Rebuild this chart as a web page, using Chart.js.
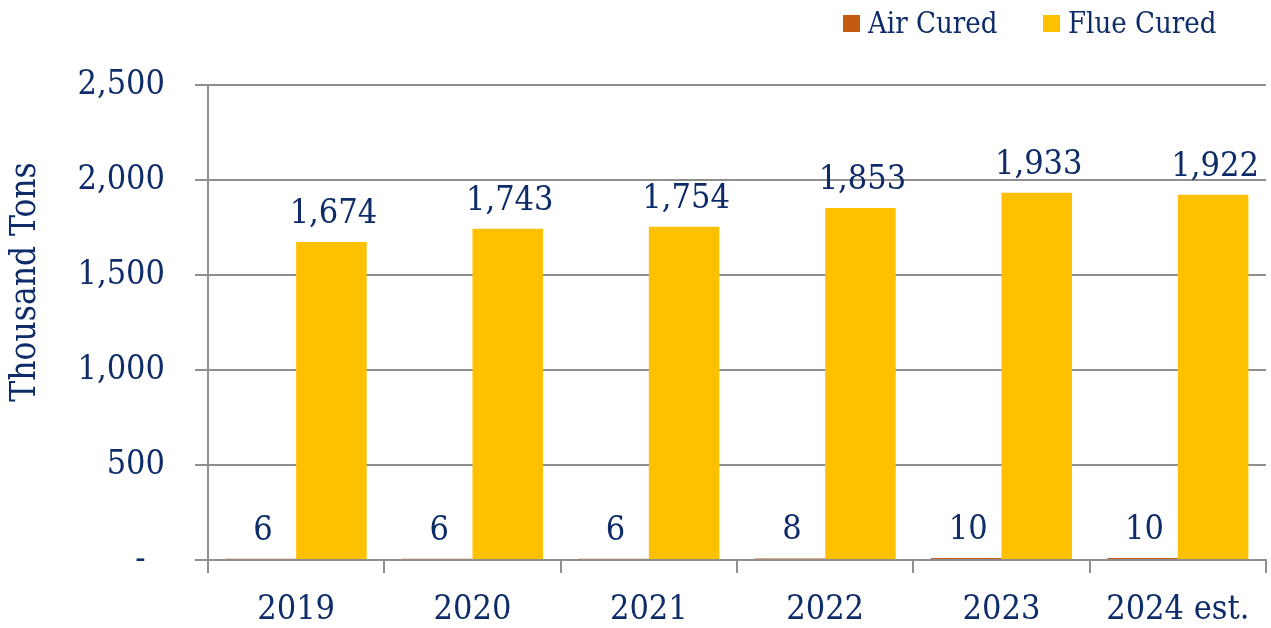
<!DOCTYPE html>
<html>
<head>
<meta charset="utf-8">
<script src="https://cdn.jsdelivr.net/npm/chart.js@4.4.1/dist/chart.umd.min.js"></script>
<style>
  html, body { margin: 0; padding: 0; background: #fff; }
  #wrap { position: relative; width: 1271px; height: 628px; }
</style>
</head>
<body>
<div id="wrap"><canvas id="tobaccoChart" width="1271" height="628"></canvas></div>
<script>
// chart data
const years = ["2019", "2020", "2021", "2022", "2023", "2024 est."];
const airCured = [6, 6, 6, 8, 10, 10];
const flueCured = [1674, 1743, 1754, 1853, 1933, 1922];
const yTicks = [0, 500, 1000, 1500, 2000, 2500];

const NAVY = "#0f2c6a";
const GRID = "#8f8f8f";
const FONT = "'DejaVu Serif Condensed', 'DejaVu Serif', serif";

// value labels over each bar
const barLabels = {
    id: "barLabels",
    afterDatasetsDraw(chart) {
        const ctx = chart.ctx;
        ctx.save();
        ctx.fillStyle = NAVY;
        ctx.font = "34px " + FONT;
        ctx.textAlign = "center";
        ctx.textBaseline = "alphabetic";
        chart.data.datasets.forEach((ds, i) => {
            chart.getDatasetMeta(i).data.forEach((bar, j) => {
                ctx.fillText(ds.data[j].toLocaleString("en-US"), bar.x + 2, bar.y - 19);
            });
        });
        ctx.restore();
    }
};

// axis title + legend drawn by hand so they sit where the original has them
const extras = {
    id: "extras",
    afterDraw(chart) {
        const ctx = chart.ctx;
        ctx.save();
        ctx.fillStyle = NAVY;
        ctx.font = "35px " + FONT;
        ctx.translate(26, 282);
        ctx.rotate(-Math.PI / 2);
        ctx.textAlign = "center";
        ctx.textBaseline = "middle";
        ctx.fillText("Thousand Tons", 0, 0);
        ctx.restore();

        ctx.save();
        ctx.font = "29px " + FONT;
        ctx.textBaseline = "middle";
        const legendX = [843, 1043];
        chart.data.datasets.forEach((ds, i) => {
            ctx.fillStyle = ds.backgroundColor;
            ctx.fillRect(legendX[i], 15, 17, 17);
            ctx.fillStyle = NAVY;
            ctx.fillText(ds.label, legendX[i] + 25, 25);
        });
        ctx.restore();
    }
};

new Chart(document.getElementById("tobaccoChart"), {
    type: "bar",
    data: {
        labels: years,
        datasets: [
            { label: "Air Cured", data: airCured, backgroundColor: "#c55a11" },
            { label: "Flue Cured", data: flueCured, backgroundColor: "#ffc000" }
        ]
    },
    options: {
        responsive: false,
        animation: false,
        layout: { padding: { top: 85, right: 5, left: 0, bottom: 0 } },
        plugins: { legend: { display: false }, tooltip: { enabled: false } },
        datasets: { bar: { categoryPercentage: 0.8, barPercentage: 1.0 } },
        scales: {
            x: {
                offset: true,
                grid: { offset: true, drawOnChartArea: false, color: GRID, lineWidth: 2, tickLength: 13 },
                border: { color: GRID, width: 2 },
                ticks: { color: NAVY, font: { family: FONT, size: 34 }, padding: 17, maxRotation: 0 },
                afterFit(scale) { scale.height = 68; }
            },
            y: {
                min: 0,
                max: 2500,
                afterBuildTicks(scale) { scale.ticks = yTicks.map(v => ({ value: v })); },
                grid: { color: GRID, lineWidth: 2, tickLength: 13 },
                border: { color: GRID, width: 2 },
                ticks: {
                    color: NAVY,
                    font: { family: FONT, size: 34 },
                    padding: 30,
                    callback: v => v === 0 ? "-  " : v.toLocaleString("en-US")
                },
                afterFit(scale) { scale.width = 208; }
            }
        }
    },
    plugins: [barLabels, extras]
});
</script>
</body>
</html>
